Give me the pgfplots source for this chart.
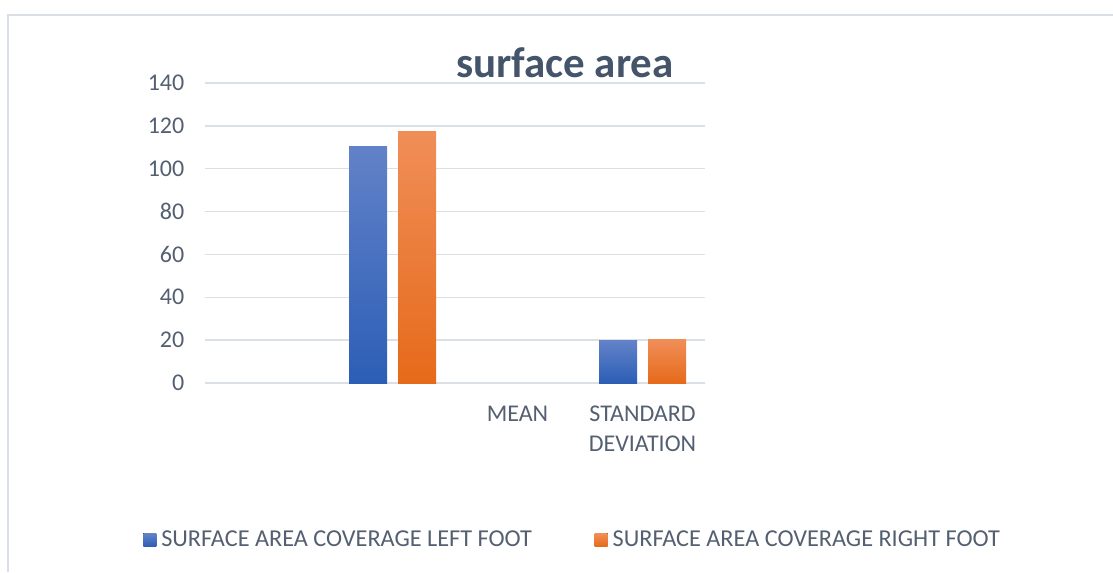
\documentclass[border=0pt]{standalone}
\usepackage{pgfplots}
\pgfplotsset{compat=1.18}
\usepackage{fontspec}
\setmainfont{Carlito}
\definecolor{txt}{RGB}{84,96,114}
\definecolor{ttl}{RGB}{68,84,106}
\definecolor{gridc}{RGB}{219,223,230}
\definecolor{framec}{RGB}{218,222,230}
\definecolor{bluetop}{RGB}{98,130,200}
\definecolor{bluebot}{RGB}{44,94,182}
\definecolor{orgtop}{RGB}{240,142,88}
\definecolor{orgbot}{RGB}{230,106,26}
\begin{document}
\begin{tikzpicture}[x=0.75pt,y=0.75pt]
\useasboundingbox (0,0) rectangle (1113,572);
\fill[white] (0,0) rectangle (1113,572);
\draw[framec, line width=1.4pt] (8,0) -- (8,557) -- (1113,557);
\node[font=\fontsize{32.2}{37}\selectfont\bfseries, text=ttl] at (565,509) {surface area};
\begin{axis}[
  at={(153.75pt,141.75pt)}, anchor=south west,
  scale only axis, width=375pt, height=225pt,
  xmin=-0.5, xmax=3.5, ymin=0, ymax=140,
  ytick={0,20,...,140},
  xtick={0,1,2,3},
  xticklabels={,,MEAN,{STANDARD\\DEVIATION}},
  axis line style={draw=none},
  major tick length=0pt,
  ymajorgrids, grid style={gridc, line width=1.1pt},
  /pgf/number format/assume math mode=true,
  ticklabel style={font=\fontsize{18}{22.5}\selectfont, text=txt},
  yticklabel style={xshift=-12pt},
  xticklabel style={align=center, yshift=-14pt},
  ybar, bar width=0.304,
  legend style={at={(-0.124,-0.523)}, anchor=west, draw=none, fill=none,
    legend columns=2, inner sep=0pt,
    font=\fontsize{18.2}{21}\selectfont, text=txt,
    /tikz/every even column/.append style={column sep=45pt}},
  legend image code/.code={\path (0pt,0pt) -- (11.5pt,0pt); \fill[#1] (0pt,-4.9pt) rectangle (9.75pt,4.9pt);},
]
\addplot[bar shift=-0.196, draw=none, top color=bluetop, bottom color=bluebot] coordinates {(1,110.6)};
\addplot[bar shift=0.196, draw=none, top color=orgtop, bottom color=orgbot] coordinates {(1,117.2)};
\addplot[forget plot, bar shift=-0.196, draw=none, top color=bluetop, bottom color=bluebot] coordinates {(3,19.7)};
\addplot[forget plot, bar shift=0.196, draw=none, top color=orgtop, bottom color=orgbot] coordinates {(3,20.2)};
\legend{SURFACE AREA COVERAGE LEFT FOOT, SURFACE AREA COVERAGE RIGHT FOOT}
\end{axis}
\end{tikzpicture}
\end{document}
